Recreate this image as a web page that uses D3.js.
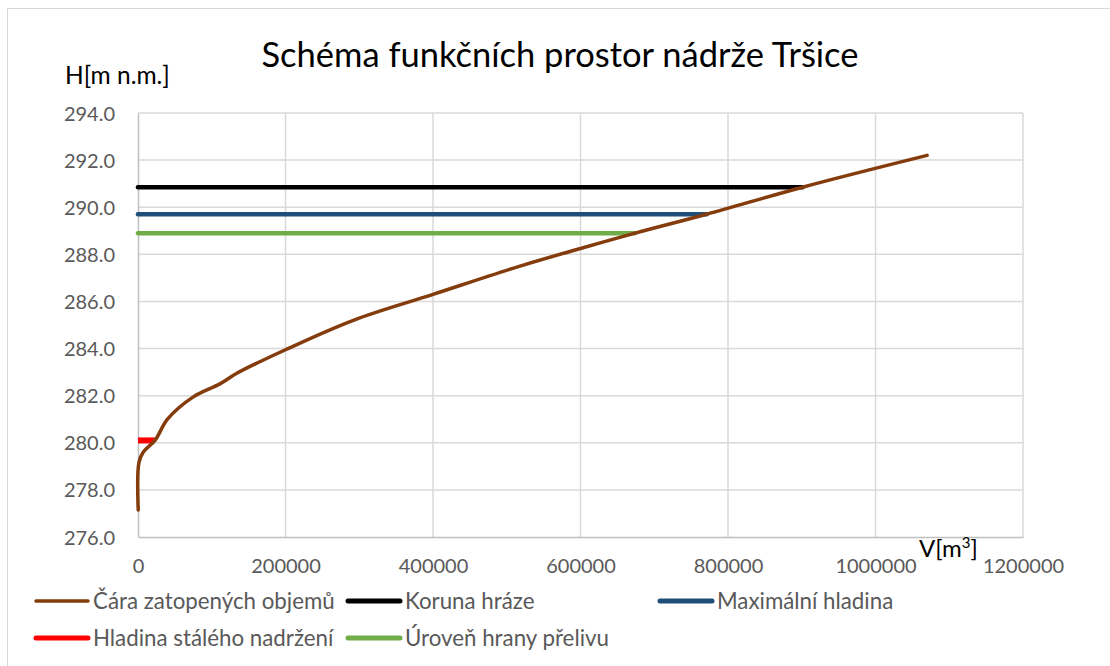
<!DOCTYPE html>
<html>
<head>
<meta charset="utf-8">
<script src="https://cdn.jsdelivr.net/npm/d3@7"></script>
<style>
  body { margin: 0; background: #fff; }
  text { font-family: Lato, "Open Sans", sans-serif; }
</style>
</head>
<body>
<svg width="1110" height="666"></svg>
<script>
// DATA
let volume = [300, 1200, 7000, 23000, 40000, 75000, 111000, 134000, 200000, 292000, 400000, 518000, 600000, 674000, 771000, 901000, 1070000]
let level = [277.15, 279.15, 279.6, 280.1, 281.0, 281.95, 282.5, 282.95, 283.95, 285.2, 286.3, 287.5, 288.25, 288.9, 289.7, 290.85, 292.2]

let levelNames = ["Koruna hráze", "Maximální hladina", "Úroveň hrany přelivu", "Hladina stálého nadržení"]
let levelH = [290.85, 289.7, 288.9, 280.1]
let levelV = [901000, 771000, 674000, 23000]

let xTicks = [0, 200000, 400000, 600000, 800000, 1000000, 1200000]
let yTicks = [276, 278, 280, 282, 284, 286, 288, 290, 292, 294]

let legendNames = ["Čára zatopených objemů", "Koruna hráze", "Maximální hladina", "Hladina stálého nadržení", "Úroveň hrany přelivu"]
let legendColors = ["#843c0c", "#000000", "#1f4e79", "#ff0000", "#70ad47"]

let colors = { "Koruna hráze": "#000000", "Maximální hladina": "#1f4e79", "Úroveň hrany přelivu": "#70ad47", "Hladina stálého nadržení": "#ff0000" }

let svg = d3.select("svg")

// outer frame
svg.append("rect")
  .attr("x", 7.5).attr("y", 8.5)
  .attr("width", 1110).attr("height", 700)
  .attr("fill", "none")
  .attr("stroke", "#d9d9d9")

let plotLeft = 138, plotRight = 1023, plotTop = 113, plotBottom = 537

// SCALE
let x = d3.scaleLinear().domain([0, 1200000]).range([plotLeft, plotRight])
let y = d3.scaleLinear().domain([276, 294]).range([plotBottom, plotTop])

// grid
svg.append("g")
  .selectAll("line")
  .data(xTicks.slice(1))
  .enter().append("line")
  .attr("x1", d => x(d)).attr("x2", d => x(d))
  .attr("y1", plotTop).attr("y2", plotBottom)
  .attr("stroke", "#d9d9d9").attr("stroke-width", 1.5)

svg.append("g")
  .selectAll("line")
  .data(yTicks.slice(1))
  .enter().append("line")
  .attr("x1", plotLeft).attr("x2", plotRight)
  .attr("y1", d => y(d)).attr("y2", d => y(d))
  .attr("stroke", "#d9d9d9").attr("stroke-width", 1.5)

// AXES
let xAxis = d3.axisBottom(x).tickValues(xTicks).tickSize(0).tickPadding(22).tickFormat(d3.format("d"))
let yAxis = d3.axisLeft(y).tickValues(yTicks).tickSize(0).tickPadding(23).tickFormat(d3.format(".1f"))

let gx = svg.append("g").attr("transform", `translate(0, ${plotBottom})`).call(xAxis)
let gy = svg.append("g").attr("transform", `translate(${plotLeft}, 0)`).call(yAxis)

;[gx, gy].forEach(g => {
  g.select(".domain").attr("stroke", "#bfbfbf").attr("stroke-width", 1.5)
  g.selectAll("text").attr("fill", "#595959").style("font-size", "20px").style("font-family", "Lato")
})
gy.selectAll("text").attr("dy", "0.35em")

// level lines
svg.selectAll("line.level")
  .data(levelNames)
  .enter().append("line")
  .attr("class", "level")
  .attr("x1", x(0))
  .attr("x2", (d, i) => x(levelV[i]))
  .attr("y1", (d, i) => y(levelH[i]))
  .attr("y2", (d, i) => y(levelH[i]))
  .attr("stroke", d => colors[d])
  .attr("stroke-width", (d, i) => i == 3 ? 6 : 4.5)
  .attr("stroke-linecap", (d, i) => i == 3 ? "butt" : "round")

// volume curve
let line = d3.line()
  .x((d, i) => x(volume[i]))
  .y((d, i) => y(d))
  .curve(d3.curveCatmullRom.alpha(0.5))

svg.append("path")
  .attr("d", line(level))
  .attr("fill", "none")
  .attr("stroke", "#843c0c")
  .attr("stroke-width", 3.5)
  .attr("stroke-linecap", "round")

// TITLE & LABELS
svg.append("text")
  .text("Schéma funkčních prostor nádrže Tršice")
  .attr("x", 560).attr("y", 67)
  .attr("text-anchor", "middle")
  .style("font-size", "34.5px")
  .attr("fill", "#000")

svg.append("text")
  .text("H[m n.m.]")
  .attr("x", 65).attr("y", 84)
  .style("font-size", "24.5px")
  .attr("fill", "#000")

let vLabel = svg.append("text")
  .attr("x", 919).attr("y", 557)
  .style("font-size", "24px")
  .attr("fill", "#000")
vLabel.append("tspan").text("V[m")
vLabel.append("tspan").text("3").attr("dy", -9).style("font-size", "15px")
vLabel.append("tspan").text("]").attr("dy", 9)

// LEGEND
let legendX = [36, 348, 660, 36, 348]
let legendY = [601, 601, 601, 638, 638]

let legend = svg.selectAll("g.legend")
  .data(legendNames)
  .enter().append("g")
  .attr("class", "legend")
  .attr("transform", (d, i) => `translate(${legendX[i]}, ${legendY[i]})`)

legend.append("line")
  .attr("x1", 0).attr("x2", 52)
  .attr("stroke", (d, i) => legendColors[i])
  .attr("stroke-width", (d, i) => i == 0 ? 3.5 : 5)
  .attr("stroke-linecap", "round")

legend.append("text")
  .text(d => d)
  .attr("x", 57)
  .attr("dy", "0.35em")
  .style("font-size", "22.3px")
  .attr("fill", "#595959")
</script>
</body>
</html>
